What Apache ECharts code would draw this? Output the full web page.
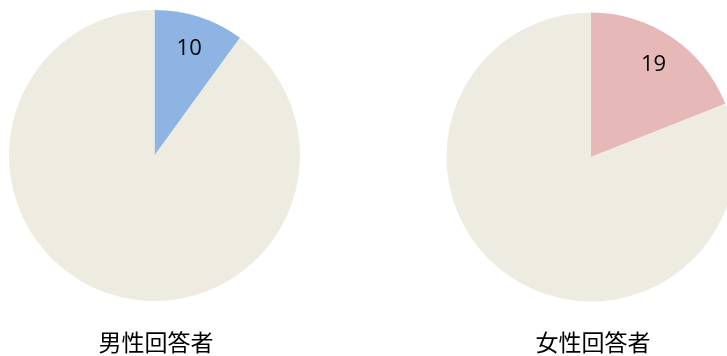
<!DOCTYPE html>
<html>
<head>
<meta charset="utf-8">
<script src="https://cdn.jsdelivr.net/npm/echarts@6/dist/echarts.min.js"></script>
<style>
html,body{margin:0;padding:0;background:#fff;}
#c{width:727px;height:356px;}
</style>
</head>
<body>
<div id="c"></div>
<script>
const titles = ['男性回答者', '女性回答者'];
const sliceNames = ['回答あり', 'その他'];
const maleValues = [10, 90];
const femaleValues = [19, 81];
const maleColors = ['#8EB4E3', '#EEECE1'];
const femaleColors = ['#E6B9B8', '#EEECE1'];

const chart = echarts.init(document.getElementById('c'), null, {renderer: 'canvas'});
const font = '"Noto Sans CJK JP", "Noto Sans", sans-serif';

function mkData(vals, colors) {
  return vals.map((v, i) => ({ name: sliceNames[i], value: v, itemStyle: { color: colors[i] } }));
}
function mkLabelData(vals) {
  return vals.map((v, i) => ({
    name: sliceNames[i], value: v,
    label: { show: i === 0 }
  }));
}

function pieSeries(center, r, vals, colors) {
  return [
    {
      type: 'pie', center: center, radius: r, startAngle: 90, clockwise: true,
      silent: true, animation: false, label: { show: false }, labelLine: { show: false },
      itemStyle: { borderWidth: 0 },
      data: mkData(vals, colors)
    },
    {
      type: 'pie', center: center, radius: [r * 0.5, r], startAngle: 90, clockwise: true,
      silent: true, animation: false,
      itemStyle: { color: 'rgba(0,0,0,0)', borderWidth: 0 },
      label: { position: 'inside', formatter: '{c}', color: '#000', fontSize: 22,
               fontFamily: '"Open Sans", "DejaVu Sans", sans-serif' },
      labelLine: { show: false },
      data: mkLabelData(vals)
    }
  ];
}

chart.setOption({
  backgroundColor: '#fff',
  animation: false,
  title: [
    { text: titles[0], left: 156, top: 331, textAlign: 'center', padding: 0,
      textStyle: { fontSize: 23, fontWeight: 'normal', color: '#000', fontFamily: font } },
    { text: titles[1], left: 593, top: 331, textAlign: 'center', padding: 0,
      textStyle: { fontSize: 23, fontWeight: 'normal', color: '#000', fontFamily: font } }
  ],
  series: [
    ...pieSeries([154.5, 155.5], 145.5, maleValues, maleColors),
    ...pieSeries([591, 157], 144.5, femaleValues, femaleColors)
  ]
});
</script>
</body>
</html>
